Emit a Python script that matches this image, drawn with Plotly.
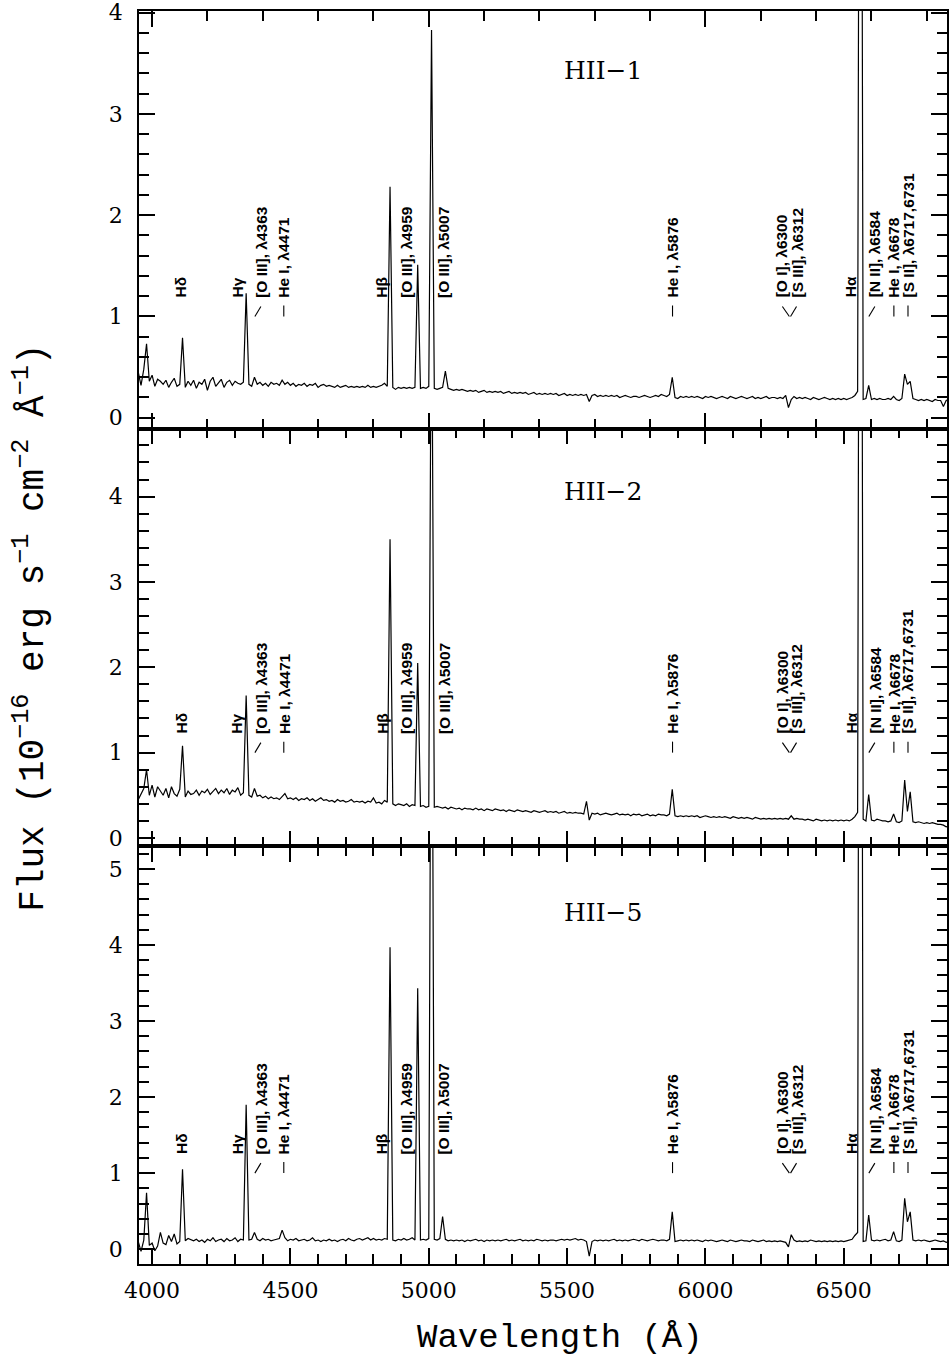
import plotly.graph_objects as go

# ---------------- data ----------------
wave = [
    3950, 3960, 3970, 3980, 3990, 4000, 4010, 4020, 4030, 4040,
    4050, 4060, 4070, 4080, 4090, 4100, 4110, 4120, 4130, 4140,
    4150, 4160, 4170, 4180, 4190, 4200, 4210, 4220, 4230, 4240,
    4250, 4260, 4270, 4280, 4290, 4300, 4310, 4320, 4330, 4340,
    4350, 4360, 4370, 4380, 4390, 4400, 4410, 4420, 4430, 4440,
    4450, 4460, 4470, 4480, 4490, 4500, 4510, 4520, 4530, 4540,
    4550, 4560, 4570, 4580, 4590, 4600, 4610, 4620, 4630, 4640,
    4650, 4660, 4670, 4680, 4690, 4700, 4710, 4720, 4730, 4740,
    4750, 4760, 4770, 4780, 4790, 4800, 4810, 4820, 4830, 4840,
    4850, 4860, 4870, 4880, 4890, 4900, 4910, 4920, 4930, 4940,
    4950, 4960, 4970, 4980, 4990, 5000, 5010, 5020, 5030, 5040,
    5050, 5060, 5070, 5080, 5090, 5100, 5110, 5120, 5130, 5140,
    5150, 5160, 5170, 5180, 5190, 5200, 5210, 5220, 5230, 5240,
    5250, 5260, 5270, 5280, 5290, 5300, 5310, 5320, 5330, 5340,
    5350, 5360, 5370, 5380, 5390, 5400, 5410, 5420, 5430, 5440,
    5450, 5460, 5470, 5480, 5490, 5500, 5510, 5520, 5530, 5540,
    5550, 5560, 5570, 5580, 5590, 5600, 5610, 5620, 5630, 5640,
    5650, 5660, 5670, 5680, 5690, 5700, 5710, 5720, 5730, 5740,
    5750, 5760, 5770, 5780, 5790, 5800, 5810, 5820, 5830, 5840,
    5850, 5860, 5870, 5880, 5890, 5900, 5910, 5920, 5930, 5940,
    5950, 5960, 5970, 5980, 5990, 6000, 6010, 6020, 6030, 6040,
    6050, 6060, 6070, 6080, 6090, 6100, 6110, 6120, 6130, 6140,
    6150, 6160, 6170, 6180, 6190, 6200, 6210, 6220, 6230, 6240,
    6250, 6260, 6270, 6280, 6290, 6300, 6310, 6320, 6330, 6340,
    6350, 6360, 6370, 6380, 6390, 6400, 6410, 6420, 6430, 6440,
    6450, 6460, 6470, 6480, 6490, 6500, 6510, 6520, 6530, 6540,
    6550, 6560, 6570, 6580, 6590, 6600, 6610, 6620, 6630, 6640,
    6650, 6660, 6670, 6680, 6690, 6700, 6710, 6720, 6730, 6740,
    6750, 6760, 6770, 6780, 6790, 6800, 6810, 6820, 6830, 6840,
    6850, 6860, 6870, 6880,
]

flux_hii1 = [
    0.45, 0.32, 0.48, 0.73, 0.36, 0.42, 0.31, 0.38, 0.36, 0.33,
    0.37, 0.30, 0.35, 0.39, 0.31, 0.33, 0.79, 0.30, 0.36, 0.32,
    0.37, 0.29, 0.35, 0.33, 0.38, 0.27, 0.36, 0.40, 0.31, 0.34,
    0.38, 0.30, 0.35, 0.37, 0.32, 0.36, 0.34, 0.33, 0.35, 1.23,
    0.33, 0.31, 0.40, 0.33, 0.35, 0.32, 0.34, 0.31, 0.35, 0.33,
    0.34, 0.32, 0.37, 0.33, 0.35, 0.32, 0.34, 0.31, 0.33, 0.32,
    0.34, 0.31, 0.33, 0.32, 0.34, 0.30, 0.32, 0.33, 0.31, 0.32,
    0.31, 0.30, 0.32, 0.30, 0.31, 0.32, 0.30, 0.31, 0.30, 0.31,
    0.30, 0.31, 0.30, 0.32, 0.30, 0.31, 0.30, 0.31, 0.32, 0.34,
    0.31, 2.28, 0.30, 0.28, 0.30, 0.29, 0.30, 0.29, 0.30, 0.29,
    0.30, 1.51, 0.29, 0.30, 0.29, 0.31, 3.83, 0.29, 0.28, 0.29,
    0.30, 0.46, 0.29, 0.28, 0.27, 0.28, 0.27, 0.28, 0.27, 0.26,
    0.27, 0.26, 0.27, 0.25, 0.26, 0.27, 0.25, 0.26, 0.25, 0.26,
    0.25, 0.26, 0.24, 0.25, 0.26, 0.24, 0.25, 0.24, 0.25, 0.24,
    0.25, 0.23, 0.24, 0.25, 0.23, 0.24, 0.23, 0.24, 0.23, 0.24,
    0.23, 0.24, 0.22, 0.23, 0.24, 0.22, 0.23, 0.22, 0.23, 0.22,
    0.23, 0.22, 0.23, 0.16, 0.22, 0.23, 0.21, 0.22, 0.21, 0.22,
    0.21, 0.22, 0.21, 0.22, 0.20, 0.21, 0.22, 0.21, 0.20, 0.21,
    0.21, 0.20, 0.21, 0.22, 0.21, 0.20, 0.21, 0.22, 0.21, 0.23,
    0.22, 0.21, 0.23, 0.40, 0.20, 0.19, 0.21, 0.20, 0.21, 0.20,
    0.21, 0.20, 0.21, 0.20, 0.19, 0.21, 0.20, 0.21, 0.20, 0.19,
    0.20, 0.21, 0.20, 0.19, 0.21, 0.20, 0.19, 0.20, 0.21, 0.20,
    0.19, 0.20, 0.21, 0.19, 0.20, 0.19, 0.20, 0.21, 0.19, 0.20,
    0.20, 0.19, 0.20, 0.19, 0.22, 0.10, 0.18, 0.21, 0.19, 0.20,
    0.19, 0.20, 0.19, 0.18, 0.20, 0.19, 0.18, 0.19, 0.20, 0.19,
    0.18, 0.19, 0.18, 0.19, 0.18, 0.19, 0.18, 0.19, 0.20, 0.22,
    0.26, 12.0, 0.18, 0.19, 0.32, 0.18, 0.19, 0.18, 0.19, 0.18,
    0.18, 0.19, 0.18, 0.21, 0.18, 0.17, 0.19, 0.43, 0.33, 0.36,
    0.19, 0.18, 0.17, 0.18, 0.17, 0.18, 0.17, 0.16, 0.18, 0.17,
    0.17, 0.11, 0.17, 0.18,
]

flux_hii2 = [
    0.45, 0.52, 0.58, 0.80, 0.50, 0.62, 0.48, 0.60, 0.55, 0.50,
    0.58, 0.47, 0.60, 0.52, 0.49, 0.57, 1.08, 0.48, 0.55, 0.51,
    0.52, 0.56, 0.50, 0.55, 0.53, 0.57, 0.51, 0.55, 0.58, 0.52,
    0.56, 0.53, 0.58, 0.51, 0.56, 0.54, 0.59, 0.50, 0.53, 1.67,
    0.50, 0.48, 0.58, 0.49, 0.50, 0.47, 0.49, 0.46, 0.48, 0.46,
    0.47, 0.45, 0.48, 0.52, 0.46, 0.47, 0.45, 0.47, 0.44, 0.46,
    0.45, 0.47, 0.44, 0.46, 0.43, 0.45, 0.47, 0.44, 0.45, 0.43,
    0.44, 0.42, 0.45, 0.43, 0.44, 0.42, 0.43, 0.45, 0.42, 0.43,
    0.42, 0.43, 0.41, 0.43, 0.42, 0.47, 0.41, 0.42, 0.40, 0.44,
    0.42, 3.50, 0.40, 0.38, 0.40, 0.39, 0.38, 0.40, 0.37, 0.39,
    0.38, 2.05, 0.37, 0.38, 0.36, 0.37, 7.00, 0.36, 0.37, 0.36,
    0.35, 0.36, 0.34, 0.36, 0.35, 0.34, 0.35, 0.33, 0.35, 0.34,
    0.34, 0.33, 0.35, 0.33, 0.34, 0.32, 0.34, 0.33, 0.32, 0.34,
    0.33, 0.32, 0.33, 0.31, 0.33, 0.32, 0.31, 0.33, 0.32, 0.31,
    0.32, 0.31, 0.30, 0.32, 0.31, 0.30, 0.31, 0.32, 0.30, 0.31,
    0.30, 0.31, 0.29, 0.30, 0.31, 0.29, 0.30, 0.29, 0.30, 0.29,
    0.29, 0.28, 0.43, 0.21, 0.29, 0.28, 0.29, 0.27, 0.28, 0.29,
    0.28, 0.27, 0.28, 0.29, 0.27, 0.28, 0.27, 0.28, 0.26, 0.28,
    0.27, 0.28, 0.26, 0.27, 0.28, 0.26, 0.27, 0.26, 0.28, 0.27,
    0.27, 0.26, 0.28, 0.57, 0.26, 0.25, 0.26, 0.25, 0.26, 0.25,
    0.26, 0.25, 0.26, 0.24, 0.25, 0.26, 0.25, 0.24, 0.25, 0.24,
    0.25, 0.24, 0.25, 0.24, 0.23, 0.25, 0.24, 0.23, 0.24, 0.23,
    0.24, 0.23, 0.22, 0.24, 0.23, 0.22, 0.23, 0.22, 0.23, 0.22,
    0.23, 0.22, 0.23, 0.22, 0.23, 0.22, 0.26, 0.22, 0.23, 0.22,
    0.22, 0.21, 0.22, 0.21, 0.20, 0.22, 0.21, 0.20, 0.21, 0.20,
    0.21, 0.20, 0.21, 0.20, 0.21, 0.20, 0.21, 0.20, 0.22, 0.25,
    0.30, 15.0, 0.22, 0.20, 0.51, 0.21, 0.20, 0.22, 0.21, 0.20,
    0.20, 0.19, 0.20, 0.28, 0.19, 0.18, 0.20, 0.68, 0.31, 0.54,
    0.19, 0.18, 0.19, 0.18, 0.17, 0.18, 0.17, 0.18, 0.17, 0.16,
    0.16, 0.15, 0.13, 0.14,
]

flux_hii5 = [
    0.10, -0.03, 0.12, 0.74, 0.05, 0.08, -0.02, 0.04, 0.22, 0.08,
    0.06, 0.18, 0.10, 0.20, 0.07, 0.10, 1.05, 0.11, 0.14, 0.12,
    0.11, 0.13, 0.10, 0.12, 0.09, 0.13, 0.11, 0.15, 0.10, 0.12,
    0.13, 0.10, 0.14, 0.11, 0.12, 0.15, 0.10, 0.13, 0.12, 1.90,
    0.12, 0.13, 0.22, 0.13, 0.11, 0.14, 0.12, 0.13, 0.11, 0.12,
    0.13, 0.14, 0.25, 0.15, 0.11, 0.13, 0.12, 0.14, 0.11, 0.12,
    0.13, 0.11, 0.12, 0.15, 0.11, 0.12, 0.10, 0.12, 0.11, 0.13,
    0.11, 0.12, 0.10, 0.12, 0.13, 0.11, 0.14, 0.12, 0.11, 0.13,
    0.14, 0.12, 0.13, 0.15, 0.12, 0.14, 0.12, 0.13, 0.12, 0.14,
    0.13, 3.97, 0.12, 0.11, 0.13, 0.12, 0.14, 0.12, 0.13, 0.15,
    0.12, 3.43, 0.12, 0.13, 0.12, 0.14, 10.0, 0.13, 0.12, 0.14,
    0.43, 0.13, 0.11, 0.12, 0.11, 0.12, 0.11, 0.12, 0.10, 0.12,
    0.11, 0.12, 0.13, 0.11, 0.12, 0.10, 0.12, 0.11, 0.12, 0.11,
    0.12, 0.11, 0.12, 0.13, 0.11, 0.12, 0.11, 0.12, 0.13, 0.11,
    0.12, 0.11, 0.12, 0.11, 0.13, 0.12, 0.11, 0.12, 0.11, 0.12,
    0.12, 0.11, 0.12, 0.13, 0.12, 0.13, 0.12, 0.13, 0.14, 0.12,
    0.13, 0.12, 0.10, -0.09, 0.10, 0.12, 0.11, 0.12, 0.11, 0.12,
    0.11, 0.12, 0.13, 0.11, 0.12, 0.11, 0.12, 0.11, 0.12, 0.13,
    0.12, 0.11, 0.13, 0.12, 0.11, 0.12, 0.13, 0.12, 0.11, 0.12,
    0.12, 0.11, 0.13, 0.49, 0.10, 0.11, 0.12, 0.11, 0.12, 0.11,
    0.12, 0.11, 0.12, 0.11, 0.10, 0.12, 0.11, 0.12, 0.11, 0.10,
    0.11, 0.12, 0.11, 0.10, 0.12, 0.11, 0.10, 0.11, 0.12, 0.11,
    0.11, 0.10, 0.12, 0.11, 0.10, 0.11, 0.12, 0.10, 0.11, 0.10,
    0.11, 0.10, 0.11, 0.10, 0.09, 0.03, 0.19, 0.12, 0.10, 0.11,
    0.10, 0.11, 0.10, 0.12, 0.11, 0.10, 0.11, 0.10, 0.11, 0.10,
    0.11, 0.10, 0.11, 0.10, 0.11, 0.10, 0.11, 0.12, 0.13, 0.18,
    0.22, 20.0, 0.10, 0.11, 0.45, 0.12, 0.11, 0.12, 0.11, 0.12,
    0.13, 0.11, 0.12, 0.23, 0.11, 0.10, 0.12, 0.67, 0.36, 0.49,
    0.12, 0.11, 0.12, 0.11, 0.12, 0.11, 0.10, 0.11, 0.12, 0.11,
    0.10, 0.11, 0.09, 0.10,
]

panel_names = ["HII\u22121", "HII\u22122", "HII\u22125"]

line_labels = [
    "H\u03b4", "H\u03b3", "[O III], \u03bb4363", "He I, \u03bb4471",
    "H\u03b2", "[O III], \u03bb4959", "[O III], \u03bb5007",
    "He I, \u03bb5876", "[O I], \u03bb6300", "[S III], \u03bb6312",
    "H\u03b1", "[N II], \u03bb6584", "He I, \u03bb6678", "[S II], \u03bb6717,6731",
]

x_title = "Wavelength (\u00c5)"
y_title = ("Flux (10<sup>\u221216</sup> erg s<sup>\u22121</sup> "
           "cm<sup>\u22122</sup> \u00c5<sup>\u22121</sup>)")

assert len(wave) == len(flux_hii1) == len(flux_hii2) == len(flux_hii5)

# ---------------- layout helpers (positions / styles) ----------------
label_x = [4106, 4307, 4395, 4476, 4830, 4919, 5055, 5881, 6278, 6331, 6527, 6614, 6681, 6732]
label_ptr = [None, None, "fwd", "dash", None, None, None, "dash", "back", "fwd",
             None, "fwd", "dash", "dash"]
LABEL_Y = 1.0

panels = [
    dict(flux=flux_hii1, name=panel_names[0], ax="3", domain=[2 / 3, 1.0],
         yr=[-0.108, 4.017], xd=1000, xm=200, ty=0.857),
    dict(flux=flux_hii2, name=panel_names[1], ax="2", domain=[1 / 3, 2 / 3],
         yr=[-0.098, 4.796], xd=500, xm=100, ty=0.849),
    dict(flux=flux_hii5, name=panel_names[2], ax="", domain=[0.0, 1 / 3],
         yr=[-0.195, 5.297], xd=500, xm=100, ty=0.841),
]

TICKFONT = dict(family="DejaVu Serif", size=22, color="black")
LW = 1.5

fig = go.Figure()
annotations = []
shapes = []

for p in panels:
    ax = p["ax"]
    xname, yname = "x" + ax, "y" + ax
    fig.add_trace(go.Scatter(
        x=wave, y=p["flux"], mode="lines",
        line=dict(color="black", width=1.2),
        xaxis=xname, yaxis=yname, showlegend=False, hoverinfo="skip",
    ))
    fig.layout["xaxis" + ax] = dict(
        domain=[0, 1], anchor=yname, range=[3952.7, 6873],
        showgrid=False, zeroline=False, showline=True, linecolor="black",
        linewidth=LW, mirror="ticks", ticks="inside", ticklen=16,
        tickwidth=LW, tickcolor="black", tick0=4000, dtick=p["xd"],
        minor=dict(ticks="inside", ticklen=10, tickwidth=LW, tickcolor="black",
                   tick0=4000, dtick=p["xm"], showgrid=False),
        showticklabels=(ax == ""), tickfont=TICKFONT, ticklabelstandoff=6,
        ticklabeloverflow="allow",
        **({} if ax == "" else dict(matches="x")),
    )
    fig.layout["yaxis" + ax] = dict(
        domain=p["domain"], anchor=xname, range=p["yr"],
        showgrid=False, zeroline=False, showline=True, linecolor="black",
        linewidth=LW, mirror="ticks", ticks="inside", ticklen=16,
        tickwidth=LW, tickcolor="black", tick0=0, dtick=1,
        minor=dict(ticks="inside", ticklen=10, tickwidth=LW, tickcolor="black",
                   tick0=0, dtick=0.2, showgrid=False),
        tickfont=TICKFONT, ticklabelstandoff=10, ticklabeloverflow="allow",
    )
    # panel name
    annotations.append(dict(
        text=p["name"], xref=xname + " domain", yref=yname + " domain",
        x=0.574, y=p["ty"], showarrow=False, xanchor="center", yanchor="middle",
        font=dict(family="DejaVu Serif", size=25, color="black"),
    ))
    # line identifications
    for txt, lx, ptr in zip(line_labels, label_x, label_ptr):
        annotations.append(dict(
            text=txt, x=lx, y=LABEL_Y, xref=xname, yref=yname,
            textangle=-90, showarrow=False, xanchor="center", yanchor="bottom",
            yshift=18, borderpad=0,
            font=dict(family="Liberation Sans", size=15.5, color="black", weight="bold"),
        ))
        if ptr is None:
            continue
        if ptr == "dash":
            x0, y0, x1, y1 = 0, 0, 0, 11
        elif ptr == "fwd":
            x0, y0, x1, y1 = -6.5, 0, -0.5, 10
        else:
            x0, y0, x1, y1 = 0, 10, 7, 0
        shapes.append(dict(
            type="line", xref=xname, yref=yname,
            xsizemode="pixel", ysizemode="pixel",
            xanchor=lx, yanchor=LABEL_Y,
            x0=x0, x1=x1, y0=y0, y1=y1,
            line=dict(color="black", width=1.1),
        ))

# axis titles
annotations.append(dict(
    text=x_title, xref="paper", yref="paper", x=0.521, y=-0.059,
    showarrow=False, xanchor="center", yanchor="middle",
    font=dict(family="Liberation Mono", size=34, color="black"),
))
annotations.append(dict(
    text=y_title, xref="paper", yref="paper", x=-0.1346, y=0.508,
    textangle=-90, showarrow=False, xanchor="center", yanchor="middle",
    font=dict(family="Liberation Mono", size=36, color="black"),
))

fig.update_layout(
    width=949, height=1363,
    margin=dict(l=139, r=0, t=10, b=99, pad=0),
    paper_bgcolor="white", plot_bgcolor="white",
    annotations=annotations, shapes=shapes, showlegend=False,
)

fig.write_html("out.html", config={"displayModeBar": False})
